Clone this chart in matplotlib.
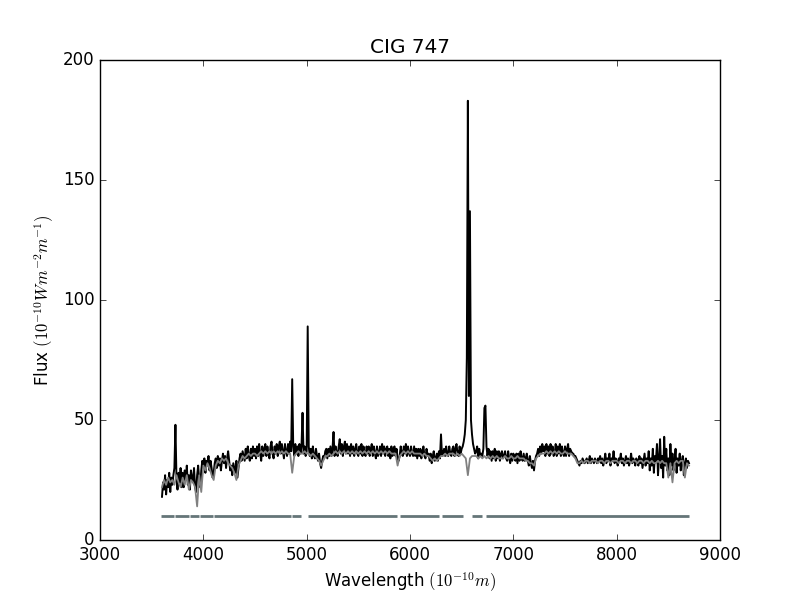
import numpy as np
import matplotlib
matplotlib.use('Agg')
import matplotlib.pyplot as plt

plt.style.use('classic')

"""資料 (flux read from the picture)"""
# observed spectrum, 10 A steps from 3600 to 8700
wave_obs = np.arange(3600, 8701, 10)
flux_obs = [
    18, 24, 21, 27, 19, 25, 22, 28, 20, 26,   # 3600
    23, 27, 30, 48, 26, 21, 28, 24, 30, 22,   # 3700
    28, 22, 29, 25, 31, 23, 27, 21, 29, 26,   # 3800
    24, 30, 22, 20, 27, 31, 25, 22, 29, 33,   # 3900
    30, 34, 28, 33, 31, 35, 29, 33, 30, 26,   # 4000
    28, 32, 34, 30, 35, 31, 34, 29, 33, 36,   # 4100
    32, 35, 30, 34, 37, 33, 29, 31, 27, 32,   # 4200
    30, 28, 33, 26, 30, 34, 36, 33, 37, 35,   # 4300
    33, 38, 34, 39, 35, 33, 38, 34, 39, 35,   # 4400
    38, 34, 39, 35, 40, 36, 33, 39, 35, 38,   # 4500
    40, 35, 39, 36, 34, 39, 41, 36, 34, 39,   # 4600
    36, 40, 35, 39, 41, 36, 40, 37, 34, 40,   # 4700
    37, 35, 40, 36, 41, 37, 67, 39, 35, 40,   # 4800
    36, 39, 35, 40, 36, 39, 53, 36, 39, 35,   # 4900
    37, 89, 39, 35, 38, 34, 39, 35, 34, 38,   # 5000
    35, 33, 36, 32, 30, 33, 35, 34, 37, 38,   # 5100
    34, 38, 35, 39, 35, 38, 45, 35, 39, 36,   # 5200
    35, 39, 42, 36, 40, 35, 39, 41, 36, 40,   # 5300
    36, 39, 35, 40, 36, 39, 35, 38, 40, 36,   # 5400
    35, 39, 36, 40, 35, 39, 36, 35, 39, 36,   # 5500
    39, 35, 38, 40, 35, 39, 36, 34, 39, 35,   # 5600
    36, 39, 35, 40, 36, 39, 35, 38, 39, 35,   # 5700
    38, 34, 39, 35, 38, 39, 35, 38, 34, 33,   # 5800
    35, 39, 36, 35, 39, 36, 40, 35, 39, 36,   # 5900
    35, 39, 36, 35, 39, 35, 38, 34, 38, 35,   # 6000
    38, 34, 37, 39, 35, 34, 38, 35, 36, 33,   # 6100
    36, 32, 35, 37, 33, 34, 36, 33, 37, 34,   # 6200
    44, 35, 36, 38, 35, 39, 36, 35, 39, 36,   # 6300
    35, 38, 39, 35, 38, 40, 36, 35, 39, 36,   # 6400
    38, 39, 41, 44, 50, 76, 183, 60, 137, 50, # 6500
    44, 40, 38, 36, 37, 39, 34, 38, 35, 36,   # 6600
    35, 38, 55, 56, 39, 35, 38, 34, 37, 33,   # 6700
    37, 34, 38, 33, 37, 34, 37, 33, 36, 37,   # 6800
    34, 35, 37, 34, 33, 37, 34, 32, 36, 33,   # 6900
    36, 35, 33, 36, 32, 36, 33, 37, 34, 33,   # 7000
    36, 33, 34, 36, 33, 31, 35, 32, 30, 33,   # 7100
    29, 33, 35, 36, 38, 35, 39, 36, 40, 37,   # 7200
    39, 35, 40, 36, 39, 35, 40, 36, 39, 35,   # 7300
    36, 40, 35, 39, 36, 40, 35, 39, 36, 35,   # 7400
    39, 35, 38, 40, 35, 38, 37, 36, 36, 35,   # 7500
    35, 34, 33, 32, 31, 33, 32, 34, 33, 32,   # 7600
    33, 34, 32, 33, 35, 32, 34, 33, 32, 34,   # 7700
    33, 32, 34, 33, 35, 32, 34, 31, 33, 36,   # 7800
    32, 34, 33, 36, 31, 34, 33, 37, 32, 34,   # 7900
    33, 31, 34, 33, 36, 32, 34, 31, 33, 35,   # 8000
    32, 34, 31, 33, 36, 32, 34, 33, 31, 34,   # 8100
    33, 31, 35, 32, 34, 30, 33, 36, 31, 34,   # 8200
    32, 37, 29, 34, 31, 38, 28, 35, 33, 40,   # 8300
    27, 34, 42, 30, 35, 26, 43, 31, 38, 29,   # 8400
    34, 27, 40, 31, 36, 29, 33, 38, 28, 34,   # 8500
    31, 36, 29, 33, 35, 27, 32, 34, 30, 33,   # 8600
    32,
]

# synthetic (model) spectrum, 20 A steps
wave_mod = np.arange(3600, 8701, 20)
flux_mod = [
    22, 25, 23, 26, 24,   # 3600
    25, 23, 27, 24, 22,   # 3700
    26, 23, 27, 21, 25,   # 3800
    24, 22, 14, 27, 20,   # 3900
    31, 29, 32, 30, 27,   # 4000
    25, 31, 33, 32, 34,   # 4100
    33, 34, 32, 31, 30,   # 4200
    28, 25, 31, 33, 35,   # 4300
    34, 35, 36, 35, 36,   # 4400
    36, 35, 36, 37, 36,   # 4500
    37, 36, 37, 36, 37,   # 4600
    36, 37, 36, 37, 36,   # 4700
    37, 36, 36, 28, 35,   # 4800
    36, 37, 36, 36, 37,   # 4900
    36, 36, 35, 36, 35,   # 5000
    34, 33, 31, 33, 35,   # 5100
    35, 36, 35, 36, 37,   # 5200
    36, 37, 36, 37, 36,   # 5300
    37, 36, 37, 36, 37,   # 5400
    36, 37, 36, 37, 36,   # 5500
    37, 36, 37, 36, 37,   # 5600
    36, 37, 36, 37, 36,   # 5700
    37, 36, 36, 36, 31,   # 5800
    35, 36, 37, 36, 37,   # 5900
    36, 37, 36, 36, 36,   # 6000
    36, 35, 36, 35, 35,   # 6100
    34, 33, 34, 33, 34,   # 6200
    35, 35, 36, 35, 36,   # 6300
    36, 36, 35, 36, 35,   # 6400
    36, 35, 34, 27, 34,   # 6500
    35, 35, 35, 34, 35,   # 6600
    34, 35, 34, 35, 34,   # 6700
    35, 34, 35, 34, 34,   # 6800
    34, 35, 34, 34, 35,   # 6900
    34, 34, 35, 34, 34,   # 7000
    34, 33, 33, 32, 32,   # 7100
    31, 34, 35, 36, 36,   # 7200
    36, 37, 36, 37, 36,   # 7300
    37, 36, 37, 36, 36,   # 7400
    37, 36, 36, 36, 35,   # 7500
    34, 32, 32, 33, 32,   # 7600
    33, 33, 32, 33, 33,   # 7700
    33, 32, 33, 33, 32,   # 7800
    33, 33, 32, 33, 33,   # 7900
    33, 32, 33, 33, 32,   # 8000
    33, 33, 32, 33, 33,   # 8100
    32, 33, 33, 32, 33,   # 8200
    33, 32, 33, 32, 32,   # 8300
    33, 32, 33, 32, 32,   # 8400
    26, 32, 24, 32, 33,   # 8500
    32, 33, 33, 26, 32,   # 8600
    31,
]

# masked regions (good-pixel segments drawn at flux = 10)
mask_start = [3590, 3726, 3871, 3968, 4103, 4861, 5016, 5903, 6310, 6602, 6738]
mask_end = [3713, 3864, 3961, 4090, 4848, 4942, 5871, 6281, 6509, 6696, 8697]
mask_level = [10] * len(mask_start)

"""繪圖"""
fig = plt.figure(figsize=(8, 6), facecolor='white')
ax = fig.add_subplot(111)
ax.plot(wave_obs, flux_obs, color='black', lw=1.4)
ax.plot(wave_mod, flux_mod, color='0.5', lw=1.3)
ax.hlines(mask_level, mask_start, mask_end, color='#657578', lw=2)

ax.set_xlim(3000, 9000)
ax.set_ylim(0, 200)
ax.set_xticks([3000, 4000, 5000, 6000, 7000, 8000, 9000])
ax.set_yticks([0, 50, 100, 150, 200])
ax.set_xlabel(r'Wavelength $(10^{-10} m)$')
ax.set_ylabel(r'Flux $(10^{-10} W m^{-2} m^{-1})$')
ax.set_title('CIG 747')

fig.savefig('out.png', dpi=100, facecolor='white')
